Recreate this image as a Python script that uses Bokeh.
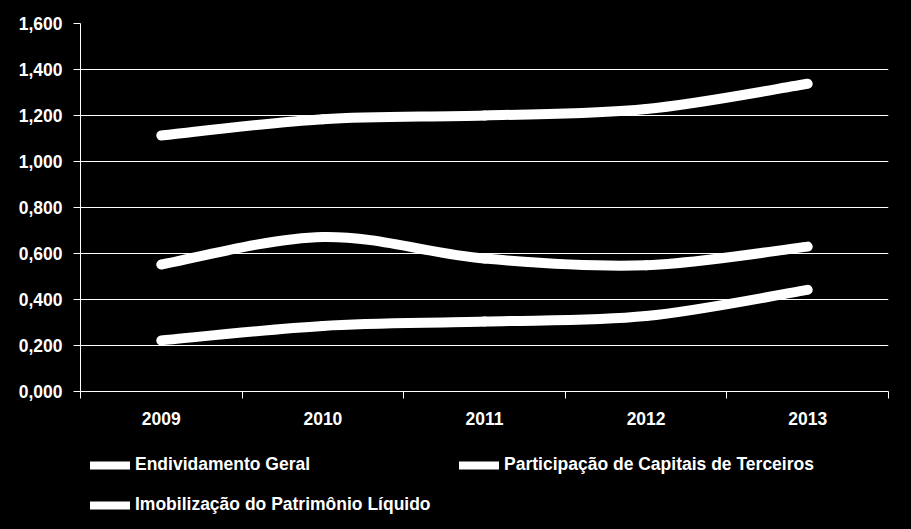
from bokeh.plotting import figure
from bokeh.layouts import column
from bokeh.models import (Range1d, FixedTicker, CustomJSTickFormatter, Legend,
                          LegendItem, ColumnDataSource)
from bokeh.embed import file_html
from bokeh.resources import INLINE
from bokeh.core.templates import FILE

# ---- data ----
years = ["2009", "2010", "2011", "2012", "2013"]
endividamento_geral = [0.552, 0.672, 0.578, 0.549, 0.630]
participacao_capitais = [1.113, 1.184, 1.200, 1.228, 1.338]
imobilizacao_pl = [0.222, 0.285, 0.304, 0.328, 0.442]
series_names = ["Endividamento Geral",
                "Participação de Capitais de Terceiros",
                "Imobilização do Patrimônio Líquido"]
y_ticks = [0.0, 0.2, 0.4, 0.6, 0.8, 1.0, 1.2, 1.4, 1.6]

FONT = "Liberation Sans"
FSIZE = "17.5px"

p = figure(width=911, height=440, output_backend="svg", toolbar_location=None,
           x_range=Range1d(0.5, len(years) + 0.5), y_range=Range1d(0, 1.6),
           min_border_left=80, min_border_right=23, min_border_top=23,
           min_border_bottom=49)
p.background_fill_color = "black"
p.border_fill_color = "black"
p.outline_line_color = None

# x axis: labels at category centres, tick marks at boundaries
xs = list(range(1, len(years) + 1))
p.xaxis.ticker = FixedTicker(ticks=xs, minor_ticks=[x - 0.5 for x in xs] + [xs[-1] + 0.5])
p.xaxis.formatter = CustomJSTickFormatter(args=dict(labels=years),
                                          code="return labels[Math.round(tick) - 1];")
p.xaxis.major_tick_out = 0
p.xaxis.major_tick_in = 0
p.xaxis.minor_tick_out = 7
p.xaxis.minor_tick_in = 0
p.xaxis.major_label_standoff = 13
p.xgrid.visible = False

p.yaxis.ticker = FixedTicker(ticks=y_ticks)
p.yaxis.formatter = CustomJSTickFormatter(code="return tick.toFixed(3).replace('.', ',');")
p.yaxis.major_tick_out = 7
p.yaxis.major_tick_in = 0
p.yaxis.minor_tick_out = 0
p.yaxis.minor_tick_in = 0
p.yaxis.major_label_standoff = 11
p.ygrid.grid_line_color = "white"
p.ygrid.grid_line_width = 1

for ax in (p.xaxis, p.yaxis):
    ax.axis_line_color = "white"
    ax.major_tick_line_color = "white"
    ax.minor_tick_line_color = "white"
    ax.major_label_text_color = "white"
    ax.major_label_text_font = FONT
    ax.major_label_text_font_style = "bold"
    ax.major_label_text_font_size = FSIZE

# legend strip below the chart
pl = figure(width=911, height=89, output_backend="svg", toolbar_location=None,
            x_range=Range1d(100, 101), y_range=Range1d(100, 101),
            x_axis_location=None, y_axis_location=None,
            min_border_left=0, min_border_right=0, min_border_top=0, min_border_bottom=0)
pl.background_fill_color = "black"
pl.border_fill_color = "black"
pl.outline_line_color = None
pl.grid.visible = False


def smooth_segments(xv, yv):
    n = len(xv)
    d = dict(x0=[], y0=[], x1=[], y1=[], cx0=[], cy0=[], cx1=[], cy1=[])
    for i in range(n - 1):
        im1 = max(i - 1, 0)
        ip2 = min(i + 2, n - 1)
        d["x0"].append(xv[i]); d["y0"].append(yv[i])
        d["x1"].append(xv[i + 1]); d["y1"].append(yv[i + 1])
        d["cx0"].append(xv[i] + (xv[i + 1] - xv[im1]) / 6.0)
        d["cy0"].append(yv[i] + (yv[i + 1] - yv[im1]) / 6.0)
        d["cx1"].append(xv[i + 1] - (xv[ip2] - xv[i]) / 6.0)
        d["cy1"].append(yv[i + 1] - (yv[ip2] - yv[i]) / 6.0)
    return ColumnDataSource(d)


items = []
for name, vals in zip(series_names, [endividamento_geral, participacao_capitais, imobilizacao_pl]):
    src = smooth_segments(xs, vals)
    style = dict(x0="x0", y0="y0", x1="x1", y1="y1", cx0="cx0", cy0="cy0",
                 cx1="cx1", cy1="cy1", source=src, line_color="white",
                 line_cap="round", line_join="round")
    p.bezier(line_width=10, **style)
    r_leg = pl.bezier(line_width=8, **style)
    items.append(LegendItem(label=name, renderers=[r_leg]))

legend = Legend(items=items, orientation="horizontal", ncols=2, location=(10, 14),
                margin=0, padding=9, spacing=19, glyph_width=40, glyph_height=20,
                label_height=20, label_width=305, label_standoff=5,
                background_fill_alpha=0, border_line_color=None,
                label_text_color="white", label_text_font=FONT,
                label_text_font_style="bold", label_text_font_size=FSIZE)
pl.add_layout(legend, "center")

layout = column(p, pl, spacing=0)

page = FILE.environment.from_string(
    '{% extends "file.html" %}{% block postamble %}'
    '<style>html, body { background: #000; }</style>{% endblock %}')

open("out.html", "w").write(file_html(layout, INLINE, template=page))
